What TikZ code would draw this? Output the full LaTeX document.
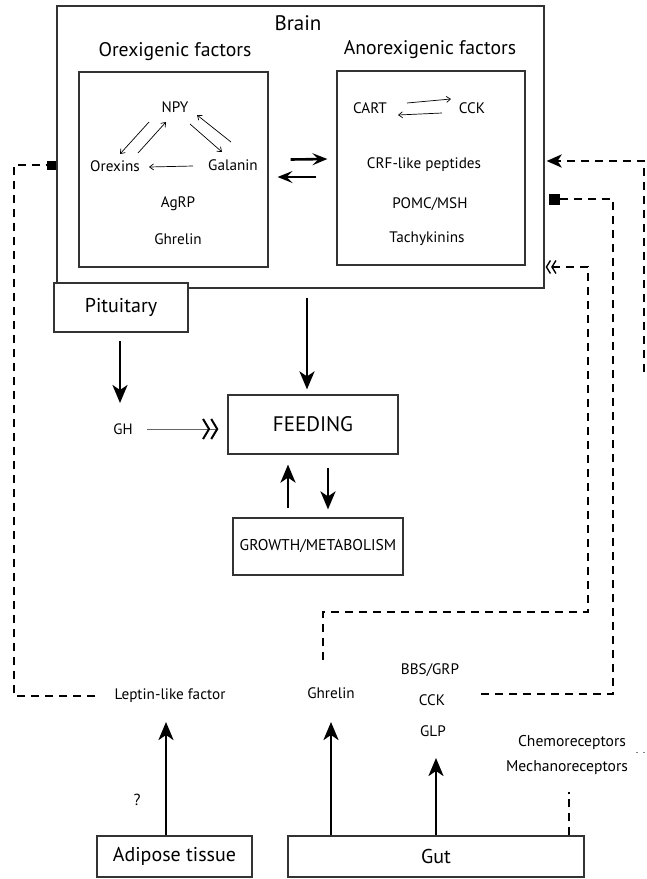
\documentclass[tikz,border=0pt]{standalone}
\usepackage{fontspec}
\setmainfont{PT Sans}
\usetikzlibrary{arrows.meta}
\begin{document}
\begin{tikzpicture}[x=1pt,y=-1pt,
 box/.style={draw=black!80, line width=1.2pt, inner sep=0pt},
 lbl/.style={inner sep=1pt, font=\fontsize{15.2}{17}\selectfont},
 big/.style={inner sep=1pt, font=\fontsize{19.7}{21}\selectfont},
 thinarr/.style={line width=0.7pt, -{Straight Barb[length=4pt,width=6pt]}},
 boldarr/.style={line width=2.6pt, -{Stealth[length=18pt,width=15pt,inset=5pt]}},
 midarr/.style={line width=2.6pt, -{Stealth[length=15pt,width=12pt,inset=6pt]}},
 dsh/.style={line width=2.9pt, dash pattern=on 8pt off 6pt},
]
\useasboundingbox (0,0) rectangle (646,879);
% brain
\node[box, minimum width=487pt, minimum height=282pt] (brain) at (300.5,147) {};
\node[inner sep=1pt, font=\fontsize{21}{23}\selectfont] (braint) at (298,23) {Brain};
\node[big] (orext) at (175,52) {Orexigenic factors};
\node[big] (anort) at (430,50) {Anorexigenic factors};
\node[box, minimum width=189pt, minimum height=195pt] (orexbox) at (173.5,169.5) {};
\node[box, minimum width=188pt, minimum height=194pt] (anorbox) at (431,168) {};
% orexigenic
\node[lbl] (npy) at (175,107) {NPY};
\node[lbl] (orexins) at (115,166) {Orexins};
\node[lbl] (galanin) at (233,165) {Galanin};
\node[lbl] (agrp) at (178,204) {AgRP};
\node[lbl] (ghrelin1) at (178,239) {Ghrelin};
% anorexigenic
\node[lbl] (cart) at (370,108) {CART};
\node[lbl] (cck1) at (472,108) {CCK};
\node[lbl] (crf) at (424,165) {CRF-like peptides};
\node[lbl] (pomc) at (430,204) {POMC/MSH};
\node[lbl] (tachy) at (427,239) {Tachykinins};
% triangle arrows
\draw[thinarr] ([shift={(-26,15)}]npy.center) -- ([shift={(5,-12)}]orexins.center);
\draw[thinarr] ([shift={(23,-13)}]orexins.center) -- ([shift={(-9,15)}]npy.center);
\draw[thinarr] ([shift={(15,17)}]npy.center) -- ([shift={(-11,-13)}]galanin.center);
\draw[thinarr] ([shift={(-2,-23)}]galanin.center) -- ([shift={(22,8)}]npy.center);
\draw[thinarr] ([shift={(-40,1)}]galanin.center) -- ([shift={(34,1)}]orexins.center);
\draw[thinarr] ([shift={(37,-5)}]cart.center) -- ([shift={(-21,-9)}]cck1.center);
\draw[thinarr] ([shift={(-30,5)}]cck1.center) -- ([shift={(28,7)}]cart.center);
% between boxes
\draw[midarr] ([shift={(22,-10)}]orexbox.east) -- ([shift={(-9,-9)}]anorbox.west);
\draw[midarr] ([shift={(-20,9)}]anorbox.west) -- ([shift={(9,7.5)}]orexbox.east);
% pituitary, GH, feeding
\node[box, fill=white, minimum width=134pt, minimum height=49pt, font=\fontsize{20}{22}\selectfont] (pit) at (121,307.5) {Pituitary};
\node[inner sep=1pt, font=\fontsize{15}{17}\selectfont] (gh) at (123,429) {GH};
\node[box, minimum width=170pt, minimum height=59pt, font=\fontsize{21}{23}\selectfont] (feed) at (313,424.5) {FEEDING};
\node[box, minimum width=170pt, minimum height=57pt, font=\fontsize{15.6}{17}\selectfont] (growth) at (318,546.5) {GROWTH/METABOLISM};
\draw[boldarr] ([shift={(-1,8)}]pit.south) -- ([shift={(-3,-26)}]gh.center);
\draw[black!60, line width=1pt, -{Straight Barb[length=6pt,width=20pt,line width=2pt,black] Straight Barb[length=6pt,width=20pt,line width=2pt,black]}] ([xshift=24pt]gh.center) -- ([shift={(-9,4.5)}]feed.west);
\draw[boldarr] ([shift={(6.5,9)}]brain.south) -- ([shift={(-6,-5)}]feed.north);
\draw[boldarr] ([shift={(-30,-9)}]growth.north) -- ([shift={(-25,10)}]feed.south);
\draw[boldarr] ([shift={(15,13)}]feed.south) -- ([shift={(10,-8)}]growth.north);
% bottom
\node[box, minimum width=155pt, minimum height=41pt, font=\fontsize{20}{22}\selectfont] (adip) at (174.5,856.5) {Adipose tissue};
\node[box, minimum width=296pt, minimum height=41pt, font=\fontsize{20}{22}\selectfont] (gut) at (436,856.5) {Gut};
\node[lbl] (lep) at (170,696) {Leptin-like factor};
\node[lbl] (ghr2) at (331,693) {Ghrelin};
\node[lbl] (bbs) at (430,670) {BBS/GRP};
\node[lbl] (cck2) at (432,700) {CCK};
\node[lbl] (glp) at (433,731) {GLP};
\node[lbl, font=\fontsize{15.6}{17}\selectfont] (chemo) at (572,742) {Chemoreceptors};
\node[lbl, font=\fontsize{15.6}{17}\selectfont] (mech) at (567,768) {Mechanoreceptors};
\node[inner sep=1pt, font=\fontsize{16}{18}\selectfont] (q) at (137,800) {?};
\draw[boldarr] ([xshift=-8.5pt]adip.north) -- ([shift={(-4,26)}]lep.center);
\draw[boldarr] (gut.north -| ghr2.center) -- ([shift={(0,29)}]ghr2.center);
\draw[boldarr] ([xshift=3pt]gut.north -| glp.center) -- ([shift={(3,27)}]glp.center);
\draw[dsh, dash pattern=on 8pt off 6pt on 8pt off 6pt on 8pt off 5pt on 2pt off 20pt] ([xshift=2pt]gut.north -| mech.center) -- ([shift={(2,15)}]mech.center);
% dashed feedback lines
\coordinate (lcor) at (14,165);
\draw[dsh, -{Square[length=9pt,width=9pt]}] ([xshift=-18pt]lep.west) -| (lcor) -- (brain.west |- lcor);
\coordinate (rfree) at (644,372);
\coordinate (rc1) at (644,161);
\draw[dsh, shorten >=2pt, -{Stealth[length=15pt,width=13pt,inset=4pt]}] (rfree) -- (rc1) -- (brain.east |- rc1);
\coordinate (gutsig) at (481,694);
\coordinate (rc2) at (613,199);
\draw[dsh, shorten >=4pt, -{Square[length=11pt,width=11pt]}] (gutsig) -| (rc2) -- (brain.east |- rc2);
\coordinate (rc3a) at (588,612);
\coordinate (rc3b) at (588,267);
\draw[dsh, shorten >=1pt, -{Straight Barb[length=4pt,width=13pt,line width=1.4pt] Straight Barb[length=4pt,width=13pt,line width=1.4pt]}] ([shift={(-8,-33)}]ghr2.center) |- (rc3a) -- (rc3b) -- (brain.east |- rc3b);
\coordinate (chr) at (646,752);
\draw[black!50, line width=1pt, dash pattern=on 2pt off 5pt] ([shift={(9,10)}]chemo.east) -- (chr);
\end{tikzpicture}
\end{document}
